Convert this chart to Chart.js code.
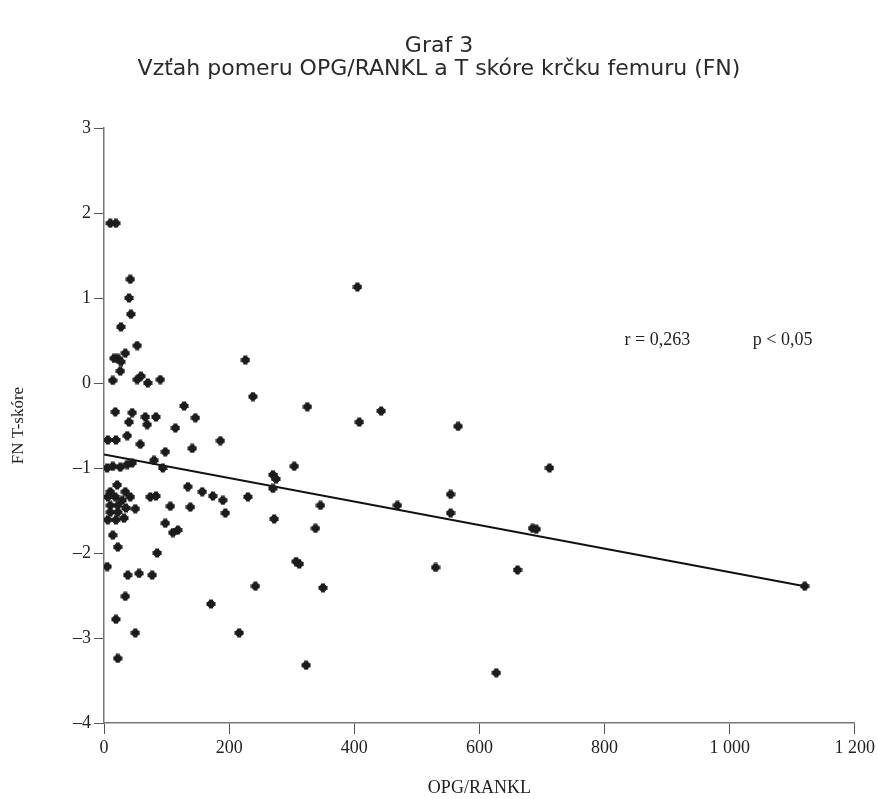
<!DOCTYPE html>
<html lang="sk">
<head>
<meta charset="utf-8">
<title>Graf 3</title>
<script src="https://cdn.jsdelivr.net/npm/chart.js@4.4.1/dist/chart.umd.min.js"></script>
<style>
  html, body { margin: 0; padding: 0; background: #fff; }
  #wrap { width: 878px; height: 799px; }
</style>
</head>
<body>
<div id="wrap"><canvas id="graf3" width="878" height="799"></canvas></div>
<script>
// Pomer OPG/RANKL (os x) a T skóre krčku femuru (os y)
const opgRankl = [
    10, 19, 42, 40, 43, 27, 53, 16, 22, 34, 27, 26, 14, 53, 59, 70, 90,
    226, 238, 405, 128, 18, 45, 40, 66, 83, 69, 146, 114, 6, 19, 37, 58,
    98, 141, 186, 80, 94, 5, 14, 26, 37, 45, 325, 443, 408, 566, 304, 712,
    270, 275, 270, 134, 157, 174, 190, 230, 554, 346, 469, 554, 272, 338,
    685, 691, 307, 312, 530, 661, 242, 350, 323, 627, 1120, 138, 194, 74,
    83, 50, 106, 98, 110, 118, 14, 22, 85, 5, 38, 56, 77, 34, 171, 19, 50,
    216, 22, 21, 10, 34, 42, 6, 18, 29, 10, 22, 35, 10, 22, 6, 19, 32
];
const tSkore = [
    1.88, 1.88, 1.22, 1.00, 0.81, 0.66, 0.44, 0.29, 0.29, 0.35, 0.25, 0.14, 0.03, 0.04, 0.08, 0.00, 0.04,
    0.27, -0.16, 1.13, -0.27, -0.34, -0.35, -0.46, -0.40, -0.40, -0.49, -0.41, -0.53, -0.67, -0.67, -0.62, -0.72,
    -0.81, -0.77, -0.68, -0.91, -1.00, -1.00, -0.98, -0.99, -0.96, -0.94, -0.28, -0.33, -0.46, -0.51, -0.98, -1.00,
    -1.08, -1.13, -1.24, -1.22, -1.28, -1.33, -1.38, -1.34, -1.31, -1.44, -1.44, -1.53, -1.60, -1.71,
    -1.71, -1.72, -2.10, -2.13, -2.17, -2.20, -2.39, -2.41, -3.32, -3.41, -2.39, -1.46, -1.53, -1.34,
    -1.33, -1.48, -1.45, -1.65, -1.76, -1.73, -1.79, -1.93, -2.00, -2.16, -2.26, -2.24, -2.26, -2.51, -2.60, -2.78, -2.94,
    -2.94, -3.24, -1.20, -1.28, -1.28, -1.34, -1.34, -1.34, -1.38, -1.44, -1.44, -1.47, -1.52, -1.52, -1.61, -1.61, -1.59
];

// regresná priamka
const trendX = [0, 1120];
const trendY = [-0.84, -2.39];

const xTicks = [0, 200, 400, 600, 800, 1000, 1200];
const yTicks = [-4, -3, -2, -1, 0, 1, 2, 3];

const titleLines = ['Graf 3', 'Vzťah pomeru OPG/RANKL a T skóre krčku femuru (FN)'];
const statTexts = ['r = 0,263', 'p < 0,05'];

const serif = '"Liberation Serif", "Times New Roman", serif';

// bodka v tvare plného krížika
function makeMarker() {
    const c = document.createElement('canvas');
    c.width = 10; c.height = 10;
    const g = c.getContext('2d');
    g.fillStyle = '#1c1c1c';
    g.fillRect(3, 0.5, 4, 9);
    g.fillRect(0.5, 3, 9, 4);
    g.beginPath();
    g.arc(5, 5, 3.7, 0, Math.PI * 2);
    g.fill();
    return c;
}

// nadpis grafu (centrovaný na celé plátno) a text s koeficientom korelácie
const textPlugin = {
    id: 'extraText',
    afterDatasetsDraw(chart, args, opts) {
        const { ctx, scales, width } = chart;
        ctx.save();
        ctx.textBaseline = 'middle';

        ctx.font = '22px "DejaVu Sans", Verdana, sans-serif';
        ctx.fillStyle = '#2a2a2a';
        ctx.textAlign = 'center';
        opts.title.forEach((t, i) => ctx.fillText(t, width / 2, opts.titleTop + i * opts.titleStep));

        ctx.font = '18px ' + serif;
        ctx.fillStyle = '#222';
        ctx.textAlign = 'left';
        opts.texts.forEach((t, i) => {
            ctx.fillText(t, scales.x.getPixelForValue(opts.at[i]), scales.y.getPixelForValue(opts.y));
        });
        ctx.restore();
    }
};

const points = opgRankl.map((v, i) => ({ x: v, y: tSkore[i] }));
const trend = trendX.map((v, i) => ({ x: v, y: trendY[i] }));

const fmtX = v => v >= 1000 ? Math.floor(v / 1000) + ' ' + String(v % 1000).padStart(3, '0') : String(v);

new Chart(document.getElementById('graf3'), {
    type: 'scatter',
    data: {
        datasets: [
            {
                data: points,
                pointStyle: makeMarker(),
                pointRadius: 5,
                pointHoverRadius: 5
            },
            {
                type: 'line',
                data: trend,
                borderColor: '#111',
                borderWidth: 2,
                pointRadius: 0,
                fill: false
            }
        ]
    },
    options: {
        responsive: false,
        animation: false,
        layout: { padding: { left: 0, right: 23, top: 128, bottom: 0 } },
        plugins: {
            legend: { display: false },
            tooltip: { enabled: false },
            title: { display: false },
            extraText: {
                title: titleLines, titleTop: 46, titleStep: 23,
                texts: statTexts, at: [832, 1037], y: 0.5
            }
        },
        scales: {
            x: {
                type: 'linear',
                min: 0,
                max: 1200,
                afterBuildTicks: s => { s.ticks = xTicks.map(v => ({ value: v })); },
                afterFit: s => { s.height = 76; },
                border: { display: true, color: '#777', width: 1.5 },
                grid: { drawOnChartArea: false, drawTicks: true, tickLength: 11, color: '#555', lineWidth: 1 },
                ticks: {
                    color: '#222',
                    padding: 3,
                    maxRotation: 0,
                    font: { family: serif, size: 18 },
                    callback: v => fmtX(v)
                },
                title: {
                    display: true,
                    text: 'OPG/RANKL',
                    color: '#222',
                    font: { family: serif, size: 18 },
                    padding: { top: 0, bottom: 0 }
                }
            },
            y: {
                type: 'linear',
                min: -4,
                max: 3,
                afterBuildTicks: s => { s.ticks = yTicks.map(v => ({ value: v })); },
                afterFit: s => { s.width = 104; },
                border: { display: true, color: '#777', width: 1.5 },
                grid: { drawOnChartArea: false, drawTicks: true, tickLength: 10, color: '#555', lineWidth: 1 },
                ticks: {
                    color: '#222',
                    padding: 3,
                    font: { family: serif, size: 18 },
                    callback: v => v < 0 ? '–' + Math.abs(v) : String(v)
                },
                title: {
                    display: true,
                    text: 'FN T-skóre',
                    color: '#222',
                    font: { family: serif, size: 17 },
                    padding: { top: 8, bottom: 0 }
                }
            }
        }
    },
    plugins: [textPlugin]
});
</script>
</body>
</html>
